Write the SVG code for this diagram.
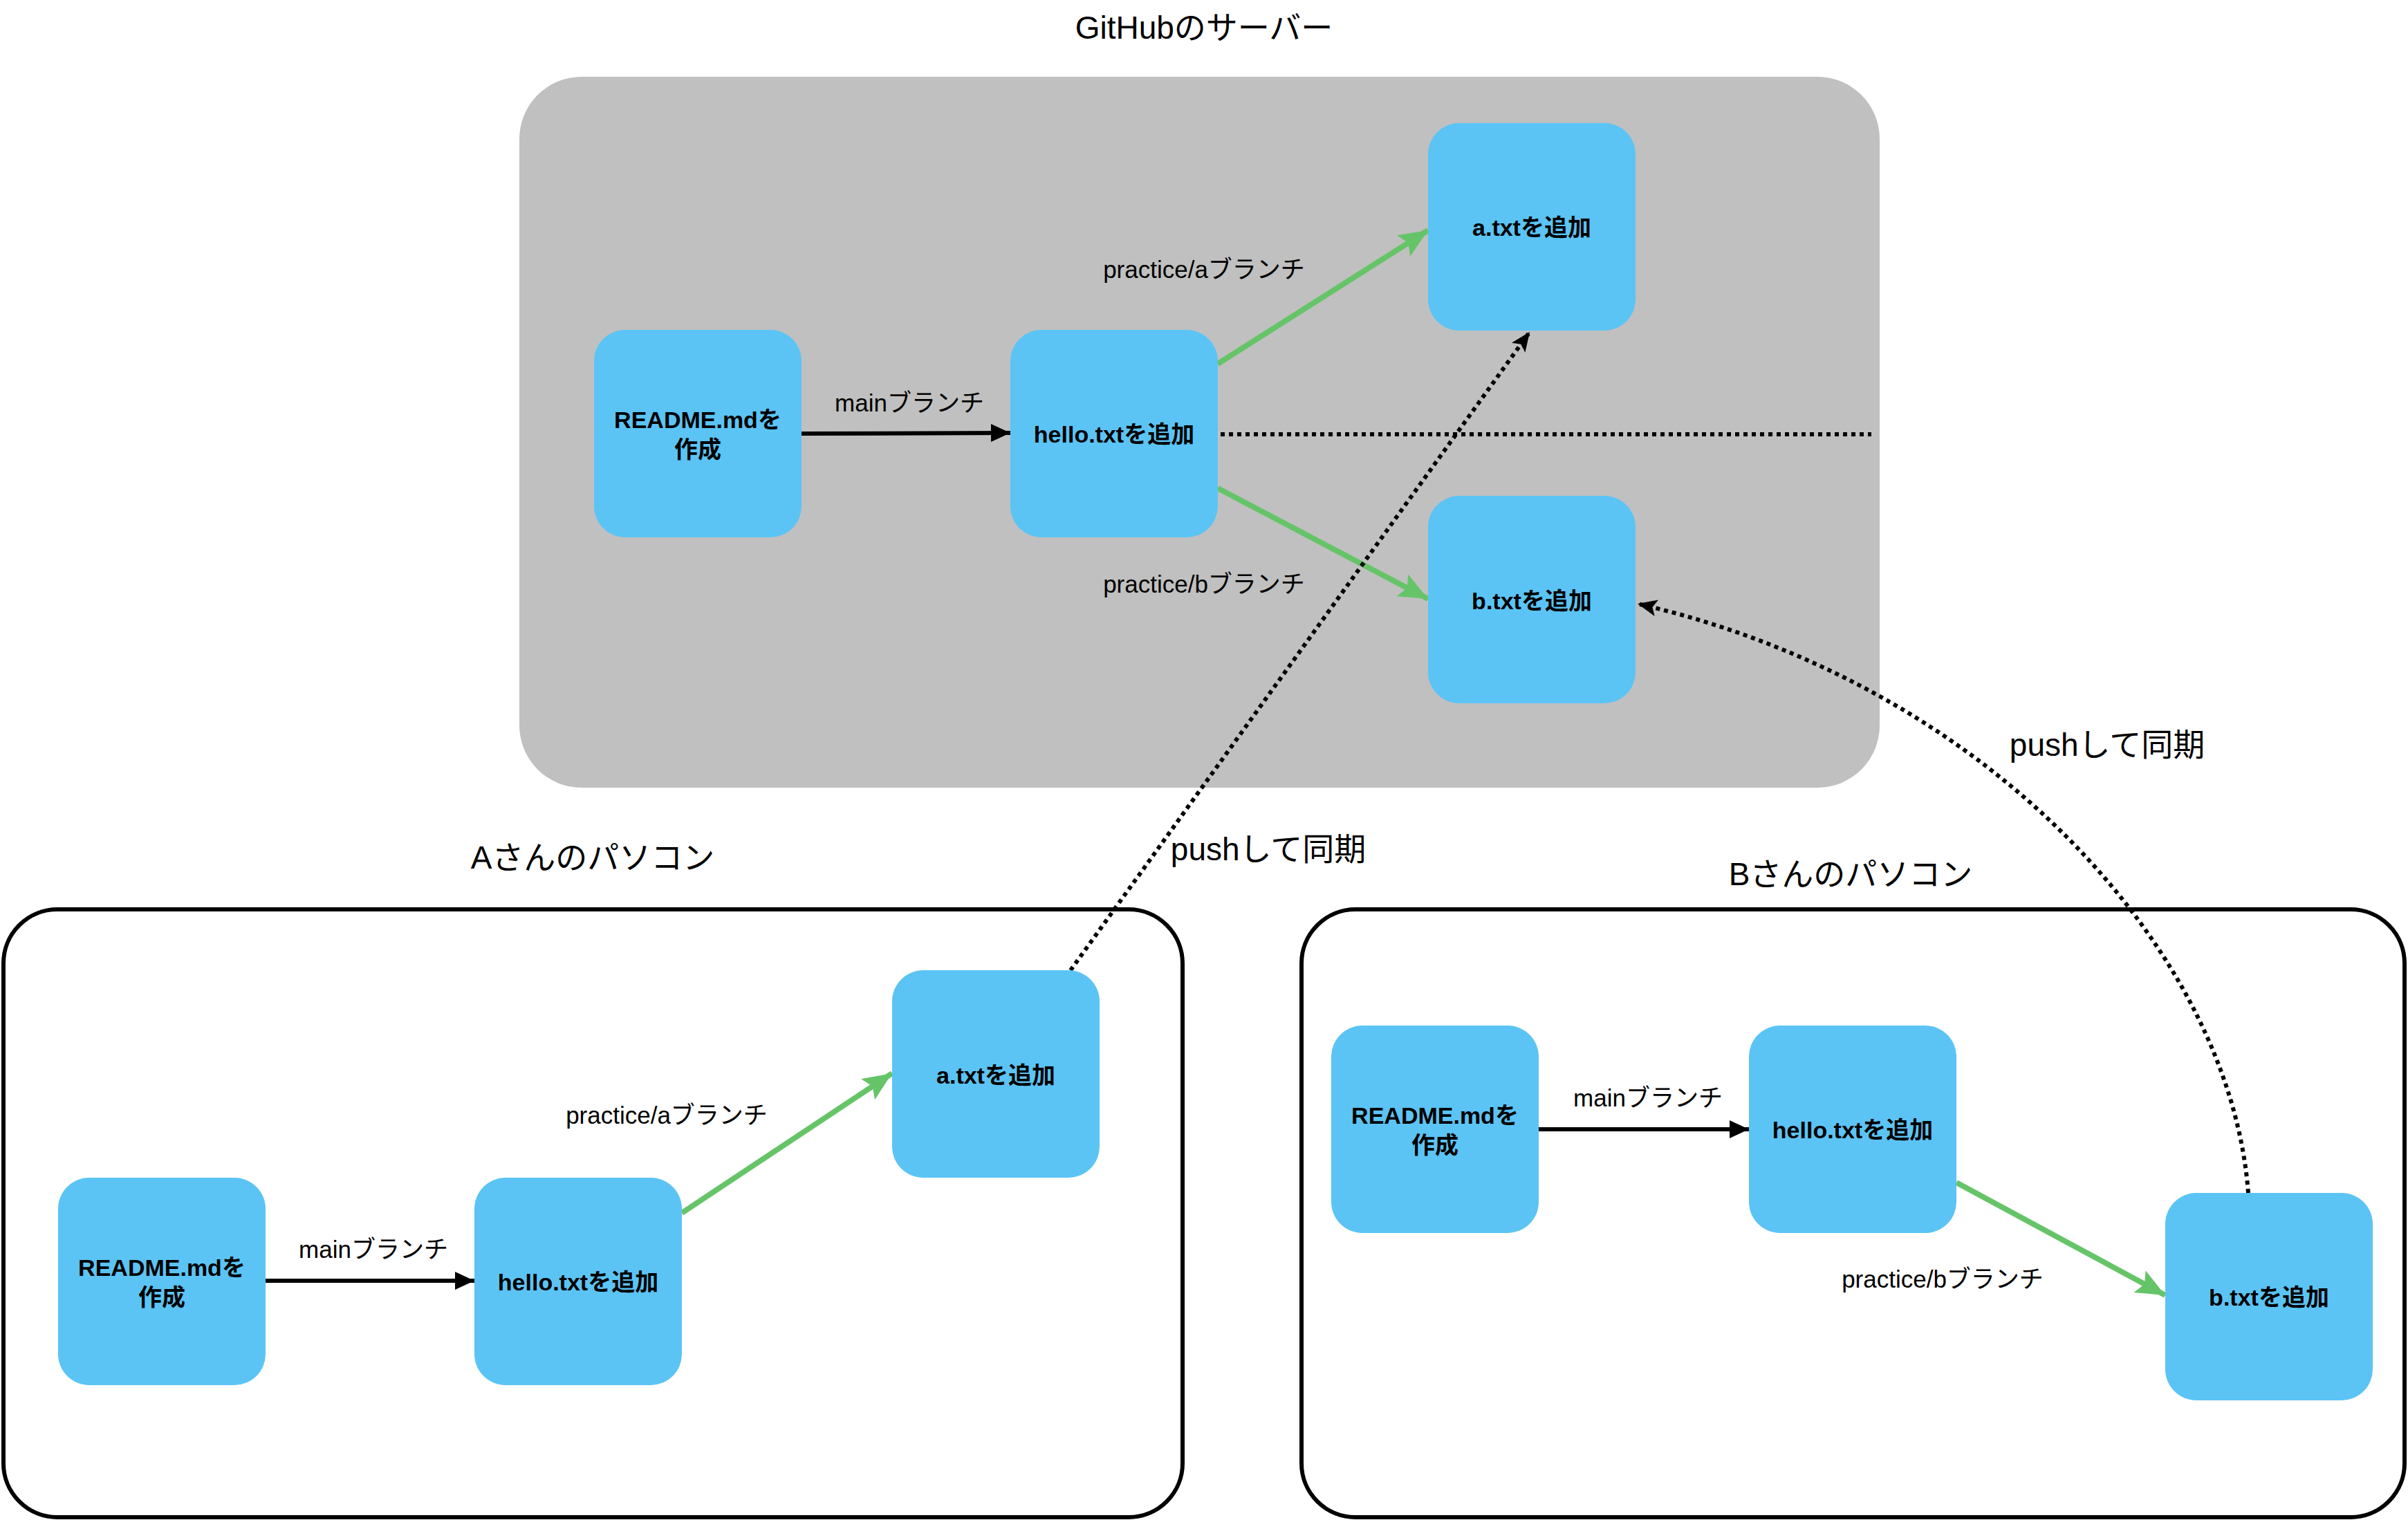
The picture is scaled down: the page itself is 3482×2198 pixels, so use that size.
<svg xmlns="http://www.w3.org/2000/svg" width="3482" height="2198" viewBox="0 0 3482 2198">
<defs>
<style>
.node{fill:#5bc4f5;}
.nt{font-family:"Liberation Sans","Noto Sans CJK JP",sans-serif;font-weight:bold;font-size:34px;fill:#000;text-anchor:middle;dominant-baseline:central;}
.lbl{font-family:"Liberation Sans","Noto Sans CJK JP",sans-serif;font-size:35px;fill:#000;text-anchor:middle;dominant-baseline:central;}
.ttl{font-family:"Liberation Sans","Noto Sans CJK JP",sans-serif;font-size:46px;fill:#000;text-anchor:middle;dominant-baseline:central;}
.blk{stroke:#000;stroke-width:6;fill:none;}
.grn{stroke:#66c468;stroke-width:8;fill:none;}
.dot{stroke:#000;stroke-width:6;fill:none;stroke-dasharray:6 6;}
</style>
<marker id="ab" markerUnits="userSpaceOnUse" markerWidth="30" markerHeight="30" viewBox="0 0 30 30" refX="28" refY="15" orient="auto"><path d="M0,2 L28,15 L0,28 Z" fill="#000"/></marker>
<marker id="ag" markerUnits="userSpaceOnUse" markerWidth="44" markerHeight="40" viewBox="0 0 44 40" refX="42" refY="20" orient="auto"><path d="M0,2 L42,20 L0,38 L8,20 Z" fill="#66c468"/></marker>
<marker id="ad" markerUnits="userSpaceOnUse" markerWidth="30" markerHeight="30" viewBox="0 0 30 30" refX="28" refY="15" orient="auto"><path d="M0,3 L28,15 L0,27 L6,15 Z" fill="#000"/></marker>
</defs>
<rect width="3482" height="2198" fill="#fff"/>

<g id="containers">
<rect id="server" x="751" y="111" width="1967" height="1028" rx="90" ry="90" fill="#c0c0c0"/>
<text class="ttl" x="1741" y="40">GitHubのサーバー</text>
<rect id="pcA" x="5" y="1315" width="1705" height="879" rx="78" ry="78" fill="none" stroke="#000" stroke-width="6"/>
<text class="ttl" x="857" y="1240">Aさんのパソコン</text>
<rect id="pcB" x="1882" y="1315" width="1595" height="879" rx="78" ry="78" fill="none" stroke="#000" stroke-width="6"/>
<text class="ttl" x="2676" y="1264">Bさんのパソコン</text>
</g>

<g id="connectors">
<path class="blk" d="M1159,627 L1461,626" marker-end="url(#ab)"/>
<text class="lbl" x="1315" y="582">mainブランチ</text>
<path class="dot" d="M1765,628 L2706,628"/>
<path class="grn" d="M1761,526 L2065,333" marker-end="url(#ag)"/>
<text class="lbl" x="1741" y="389">practice/aブランチ</text>
<path class="grn" d="M1761,706 L2065,866" marker-end="url(#ag)"/>
<text class="lbl" x="1741" y="844">practice/bブランチ</text>

<path class="blk" d="M384,1852 L686,1852" marker-end="url(#ab)"/>
<text class="lbl" x="540" y="1806">mainブランチ</text>
<path class="grn" d="M986,1754 L1290,1552" marker-end="url(#ag)"/>
<text class="lbl" x="964" y="1612">practice/aブランチ</text>

<path class="blk" d="M2225,1633 L2529,1633" marker-end="url(#ab)"/>
<text class="lbl" x="2383" y="1587">mainブランチ</text>
<path class="grn" d="M2829,1710 L3131,1873" marker-end="url(#ag)"/>
<text class="lbl" x="2809" y="1849">practice/bブランチ</text>

<path class="dot" d="M1548,1403 L2212,480" marker-end="url(#ad)"/>
<text class="ttl" x="1834" y="1228">pushして同期</text>
<path class="dot" d="M3251,1725 C3225,1380 2880,990 2368,873" marker-end="url(#ad)"/>
<text class="ttl" x="3047" y="1077">pushして同期</text>
</g>

<g id="n-s-readme"><rect class="node" x="859" y="477" width="300" height="300" rx="45"/><text class="nt" x="1009" y="607">README.mdを</text><text class="nt" x="1009" y="650">作成</text></g>
<g id="n-s-hello"><rect class="node" x="1461" y="477" width="300" height="300" rx="45"/><text class="nt" x="1611" y="628">hello.txtを追加</text></g>
<g id="n-s-a"><rect class="node" x="2065" y="178" width="300" height="300" rx="45"/><text class="nt" x="2215" y="329">a.txtを追加</text></g>
<g id="n-s-b"><rect class="node" x="2065" y="717" width="300" height="300" rx="45"/><text class="nt" x="2215" y="869">b.txtを追加</text></g>

<g id="n-a-readme"><rect class="node" x="84" y="1703" width="300" height="300" rx="45"/><text class="nt" x="234" y="1833">README.mdを</text><text class="nt" x="234" y="1876">作成</text></g>
<g id="n-a-hello"><rect class="node" x="686" y="1703" width="300" height="300" rx="45"/><text class="nt" x="836" y="1854">hello.txtを追加</text></g>
<g id="n-a-a"><rect class="node" x="1290" y="1403" width="300" height="300" rx="45"/><text class="nt" x="1440" y="1555">a.txtを追加</text></g>

<g id="n-b-readme"><rect class="node" x="1925" y="1483" width="300" height="300" rx="45"/><text class="nt" x="2075" y="1613">README.mdを</text><text class="nt" x="2075" y="1656">作成</text></g>
<g id="n-b-hello"><rect class="node" x="2529" y="1483" width="300" height="300" rx="45"/><text class="nt" x="2679" y="1634">hello.txtを追加</text></g>
<g id="n-b-b"><rect class="node" x="3131" y="1725" width="300" height="300" rx="45"/><text class="nt" x="3281" y="1876">b.txtを追加</text></g>
</svg>
